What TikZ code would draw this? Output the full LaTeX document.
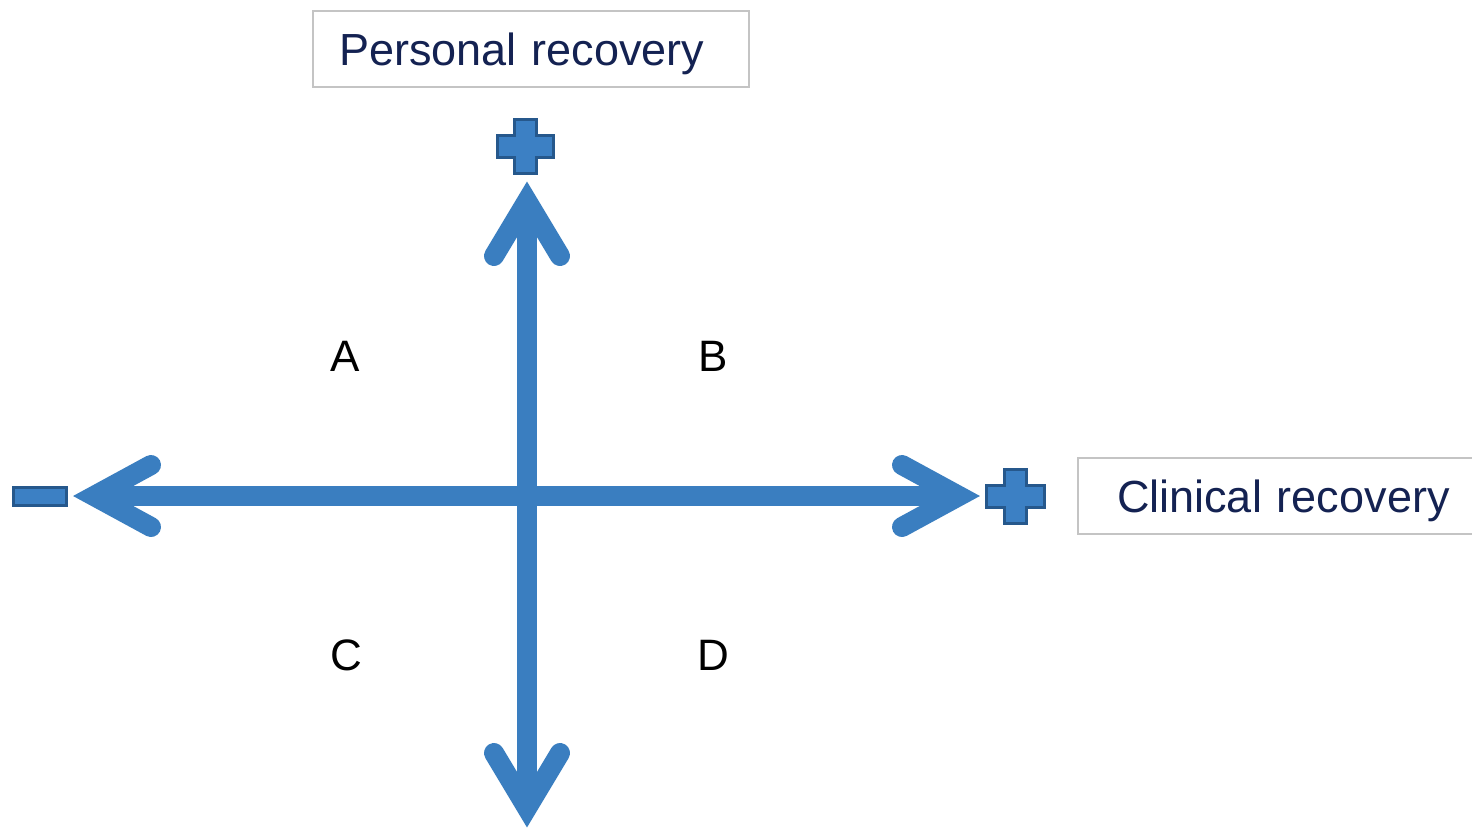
\documentclass[tikz,border=0pt]{standalone}
\usepackage{fontspec}
\setmainfont{Liberation Sans}
\definecolor{axisblue}{RGB}{58,126,192}
\definecolor{plusfill}{RGB}{60,128,196}
\definecolor{plusedge}{RGB}{38,88,140}
\definecolor{navy}{RGB}{20,34,82}
\definecolor{boxgray}{RGB}{196,196,196}
\tikzset{
  axisline/.style={draw=axisblue, line width=20pt},
  chevron/.style={draw=axisblue, line width=20pt, line cap=round, line join=miter},
  signshape/.style={fill=plusfill, draw=plusedge, line width=3pt, line join=miter},
  labelbox/.style={draw=boxgray, line width=2pt, fill=white, minimum height=76pt,
     font=\fontsize{45}{52}\selectfont, text=navy, align=left, inner ysep=0pt,
     text height=32pt, text depth=0pt},
  quad/.style={font=\fontsize{44}{52}\selectfont, text=black, inner sep=0pt}
}
\begin{document}
\begin{tikzpicture}[x=1pt,y=-1pt]
\useasboundingbox (0,0) rectangle (1472,828);
\fill[white] (0,0) rectangle (1472,828);
% axis geometry
\coordinate (topv) at (527,201);
\coordinate (botv) at (527,808);
\coordinate (leftv) at (94,496);
\coordinate (rightv) at (959,496);
\coordinate (tb1) at (494,256);
\coordinate (tb2) at (560,256);
\coordinate (bb1) at (494,753);
\coordinate (bb2) at (560,753);
\coordinate (lb1) at (151,465);
\coordinate (lb2) at (151,527);
\coordinate (rb1) at (902,465);
\coordinate (rb2) at (902,527);
% axes
\draw[axisline] (topv) -- (botv);
\draw[axisline] (leftv) -- (rightv);
% arrowheads
\draw[chevron] (tb1) -- (topv) -- (tb2);
\draw[chevron] (bb1) -- (botv) -- (bb2);
\draw[chevron] (lb1) -- (leftv) -- (lb2);
\draw[chevron] (rb1) -- (rightv) -- (rb2);
% plus signs
\draw[signshape, shift={(525,146)}]
  (-11,-27) -- (11,-27) -- (11,-11) -- (28,-11) -- (28,11) -- (11,11) -- (11,27)
  -- (-11,27) -- (-11,11) -- (-28,11) -- (-28,-11) -- (-11,-11) -- cycle;
\draw[signshape, shift={(1015,496)}]
  (-11,-27) -- (11,-27) -- (11,-11) -- (29,-11) -- (29,11) -- (11,11) -- (11,27)
  -- (-11,27) -- (-11,11) -- (-29,11) -- (-29,-11) -- (-11,-11) -- cycle;
% minus sign
\draw[signshape] (13,487) rectangle (66,505);
% label boxes
\node[labelbox, minimum width=436pt, text width=384pt, inner xsep=26pt] (pr) at (531,49) {Personal recovery};
\node[labelbox, anchor=west, minimum width=430pt, text width=352pt, inner xsep=39pt] (cr) at (1077,496) {Clinical recovery};
% quadrant letters
\node[quad] (qa) at (345,356) {A};
\node[quad] (qb) at (713,356) {B};
\node[quad] (qc) at (346,655) {C};
\node[quad] (qd) at (713,655) {D};
\end{tikzpicture}
\end{document}
